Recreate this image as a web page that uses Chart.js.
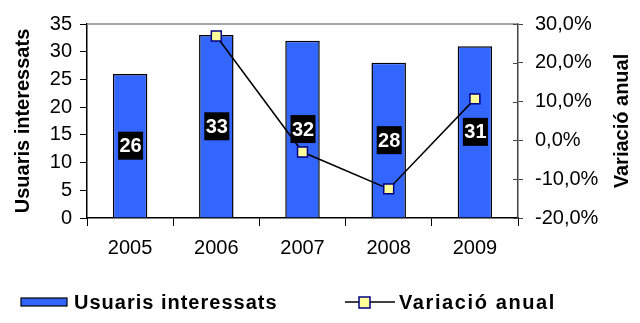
<!DOCTYPE html>
<html lang="ca">
<head>
    <meta charset="UTF-8">
    <title>Usuaris interessats</title>
    <script src="https://cdn.jsdelivr.net/npm/chart.js"></script>
    <style>
        body {
            margin: 0;
            background: #fff;
        }
        #chart {
            display: block;
        }
    </style>
</head>
<body>
    <canvas id="chart" width="640" height="323"></canvas>

    <script>
        // Chart data
        const years = ['2005', '2006', '2007', '2008', '2009'];
        const users = [26, 33, 32, 28, 31];
        const variation = [null, 26.9, -3.0, -12.5, 10.7];

        const FONT = '"Liberation Sans", Arial, sans-serif';

        function pct(v) {
            return v.toFixed(1).replace('.', ',') + '%';
        }

        // Top frame line and inner half of the right-hand ticks
        const framePlugin = {
            id: 'frame',
            beforeDatasetsDraw(chart) {
                const ctx = chart.ctx;
                const area = chart.chartArea;
                const y1 = chart.scales.y1;
                ctx.save();
                ctx.strokeStyle = '#888';
                ctx.lineWidth = 1.5;
                ctx.beginPath();
                ctx.moveTo(area.left, area.top);
                ctx.lineTo(area.right, area.top);
                ctx.stroke();
                ctx.strokeStyle = '#444';
                ctx.lineWidth = 1;
                y1.ticks.forEach(t => {
                    const py = Math.round(y1.getPixelForValue(t.value)) + 0.5;
                    ctx.beginPath();
                    ctx.moveTo(area.right - 5, py);
                    ctx.lineTo(area.right, py);
                    ctx.stroke();
                });
                ctx.restore();
            }
        };

        // Value boxes in the middle of each bar
        const barLabelPlugin = {
            id: 'barLabels',
            afterDatasetsDraw(chart) {
                const ctx = chart.ctx;
                const meta = chart.getDatasetMeta(0);
                ctx.save();
                ctx.font = 'bold 20px ' + FONT;
                ctx.textAlign = 'center';
                ctx.textBaseline = 'middle';
                meta.data.forEach((bar, i) => {
                    const cy = (bar.y + bar.base) / 2;
                    ctx.fillStyle = '#000';
                    ctx.fillRect(bar.x - 12, cy - 14, 25, 28);
                    ctx.fillStyle = '#fff';
                    ctx.fillText(String(users[i]), bar.x + 0.5, cy + 1);
                });
                ctx.restore();
            }
        };

        // Both axis titles read bottom to top
        const axisTitlePlugin = {
            id: 'axisTitles',
            afterDraw(chart) {
                const ctx = chart.ctx;
                const area = chart.chartArea;
                const cy = (area.top + area.bottom) / 2;
                const ds = chart.data.datasets;
                ctx.save();
                ctx.font = 'bold 20px ' + FONT;
                ctx.fillStyle = '#000';
                ctx.textAlign = 'center';
                ctx.textBaseline = 'middle';
                [[23, ds[0].label], [622, ds[1].label]].forEach(([x, text]) => {
                    ctx.save();
                    ctx.translate(x, cy);
                    ctx.rotate(-Math.PI / 2);
                    ctx.fillText(text, 0, 0);
                    ctx.restore();
                });
                ctx.restore();
            }
        };

        // Legend below the chart
        const legendPlugin = {
            id: 'bottomLegend',
            afterDraw(chart) {
                const ctx = chart.ctx;
                const ds = chart.data.datasets;
                const y = 302;
                ctx.save();
                ctx.font = 'bold 20px ' + FONT;
                ctx.letterSpacing = '1px';
                ctx.textBaseline = 'middle';

                ctx.fillStyle = '#3366ff';
                ctx.fillRect(21, y - 4, 46, 8);
                ctx.strokeStyle = '#000';
                ctx.lineWidth = 1.2;
                ctx.strokeRect(21, y - 4, 46, 8);
                ctx.fillStyle = '#000';
                ctx.fillText(ds[0].label, 74, y + 1);

                ctx.lineWidth = 1.5;
                ctx.beginPath();
                ctx.moveTo(345, y);
                ctx.lineTo(395, y);
                ctx.stroke();
                ctx.fillStyle = '#ffff99';
                ctx.fillRect(359, y - 5, 11, 11);
                ctx.strokeStyle = '#000080';
                ctx.strokeRect(359, y - 5, 11, 11);
                ctx.fillStyle = '#000';
                ctx.letterSpacing = '1.6px';
                ctx.fillText(ds[1].label, 399, y + 1);
                ctx.restore();
            }
        };

        new Chart(document.getElementById('chart'), {
            data: {
                labels: years,
                datasets: [
                    {
                        type: 'bar',
                        label: 'Usuaris interessats',
                        data: users,
                        yAxisID: 'y',
                        backgroundColor: '#3366ff',
                        borderColor: '#000',
                        borderWidth: 1.5,
                        barPercentage: 0.4,
                        categoryPercentage: 1,
                        order: 1
                    },
                    {
                        type: 'line',
                        label: 'Variació anual',
                        data: variation,
                        yAxisID: 'y1',
                        borderColor: '#000',
                        borderWidth: 1.5,
                        pointStyle: 'rect',
                        pointRadius: 7,
                        pointBackgroundColor: '#ffff99',
                        pointBorderColor: '#000080',
                        pointBorderWidth: 1.5,
                        tension: 0,
                        order: 0
                    }
                ]
            },
            options: {
                responsive: false,
                animation: false,
                devicePixelRatio: 1,
                layout: { padding: { top: 16, left: 0, right: 0, bottom: 0 } },
                plugins: {
                    legend: { display: false },
                    tooltip: { enabled: false }
                },
                scales: {
                    x: {
                        offset: true,
                        grid: {
                            display: true,
                            drawOnChartArea: false,
                            offset: true,
                            tickLength: 8,
                            color: '#000'
                        },
                        border: { color: '#000', width: 1.5 },
                        ticks: {
                            color: '#000',
                            font: { family: FONT, size: 20 },
                            padding: 10,
                            maxRotation: 0
                        },
                        afterFit(scale) { scale.height = 105; }
                    },
                    y: {
                        position: 'left',
                        min: 0,
                        max: 35,
                        ticks: {
                            stepSize: 5,
                            color: '#000',
                            font: { family: FONT, size: 20 },
                            padding: 8
                        },
                        grid: {
                            display: true,
                            drawOnChartArea: false,
                            tickLength: 7,
                            color: '#000'
                        },
                        border: { color: '#000', width: 1.5 },
                        afterFit(scale) { scale.width = 87; }
                    },
                    y1: {
                        position: 'right',
                        min: -20,
                        max: 30,
                        ticks: {
                            stepSize: 10,
                            color: '#000',
                            font: { family: FONT, size: 20 },
                            padding: 12,
                            callback: v => pct(v)
                        },
                        grid: {
                            display: true,
                            drawOnChartArea: false,
                            tickLength: 5,
                            color: '#444'
                        },
                        border: { color: '#444', width: 1.5 },
                        afterFit(scale) { scale.width = 122; }
                    }
                }
            },
            plugins: [framePlugin, barLabelPlugin, axisTitlePlugin, legendPlugin]
        });
    </script>
</body>
</html>
